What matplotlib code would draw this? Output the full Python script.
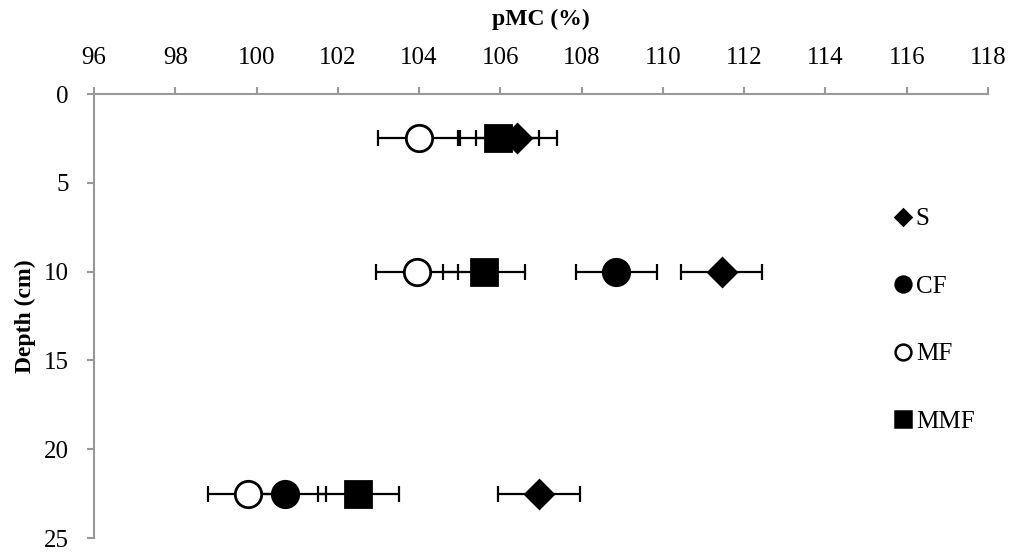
import matplotlib
matplotlib.use("Agg")
from matplotlib import pyplot as plt

plt.rcParams["font.family"] = "Liberation Serif"

depth = [2.5, 10, 22.5]
s_pmc = [106.4, 111.45, 106.95]
cf_pmc = [None, 108.85, 100.7]
mf_pmc = [104.0, 103.95, 99.8]
mmf_pmc = [105.95, 105.6, 102.5]
err = 1.0

series = [
    ("S", s_pmc, "D", 14, "black"),
    ("CF", cf_pmc, "o", 19, "black"),
    ("MF", mf_pmc, "o", 19, "white"),
    ("MMF", mmf_pmc, "s", 19, "black"),
]

fig = plt.figure(figsize=(10.14, 5.58), dpi=100)
ax = fig.add_axes([0.0927, 0.0358, 0.8817, 0.7957])

handles = []
for name, vals, mk, ms, fc in series:
    xs = [v for v in vals if v is not None]
    ys = [d for d, v in zip(depth, vals) if v is not None]
    ax.errorbar(xs, ys, xerr=err, fmt="none", ecolor="black",
                elinewidth=1.6, capsize=5.8, capthick=1.6, zorder=2)
    ax.plot(xs, ys, linestyle="none", marker=mk, markersize=ms,
            markerfacecolor=fc, markeredgecolor="black",
            markeredgewidth=2, zorder=3)
    h, = ax.plot([], [], linestyle="none", marker=mk, markersize=ms * 0.6,
                 markerfacecolor=fc, markeredgecolor="black",
                 markeredgewidth=1.8)
    handles.append((h, name))

ax.set_xlim(96, 118)
ax.set_ylim(25, 0)
ax.set_xticks(range(96, 119, 2))
ax.set_yticks(range(0, 26, 5))

ax.xaxis.tick_top()
ax.xaxis.set_label_position("top")
for side in ["right", "bottom"]:
    ax.spines[side].set_visible(False)
for side in ["top", "left"]:
    ax.spines[side].set_color("#999999")
    ax.spines[side].set_linewidth(1.5)
ax.tick_params(axis="both", direction="out", color="#999999", width=1.5,
               length=5, labelsize=18)
ax.tick_params(axis="x", pad=13)
ax.tick_params(axis="y", pad=13)

ax.set_xlabel("pMC (%)", fontsize=17, fontweight="bold", labelpad=16)
ax.set_ylabel("Depth (cm)", fontsize=17, fontweight="bold", labelpad=6)

ax.legend([h for h, n in handles], [n for h, n in handles],
          loc="upper left", bbox_to_anchor=(0.88, 0.772), frameon=False,
          fontsize=18, labelspacing=1.8, handlelength=0.8,
          handletextpad=0.1, borderpad=0)

fig.savefig("out.png", dpi=100)
